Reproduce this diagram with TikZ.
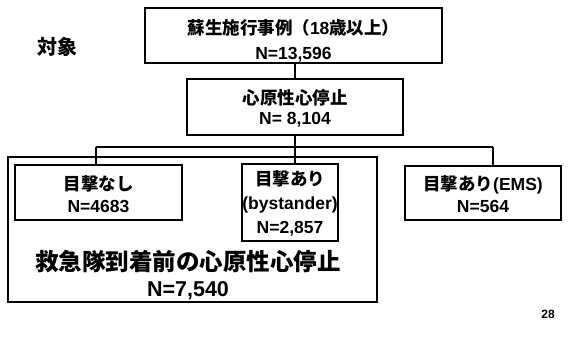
\documentclass[tikz,border=0pt]{standalone}
\usepackage{fontspec}
\setmainfont{Liberation Sans}
\newfontfamily\jp{Noto Sans CJK JP}
\begin{document}
\begin{tikzpicture}[x=1pt,y=-1pt,
  box/.style={draw, line width=1.3pt, inner sep=0pt},
  lbl/.style={align=center, inner sep=0pt, font=\fontsize{17.5}{#1}\selectfont\bfseries},
  lbl/.default=22,
  big/.style={align=center, inner sep=0pt, font=\fontsize{23.5}{26}\selectfont\bfseries},
  link/.style={line width=1.3pt}]
\useasboundingbox (0,0) rectangle (586,340);
% boxes
\node[box, minimum width=297pt, minimum height=55pt] (top) at (293.5,35.5) {};
\node[box, minimum width=216pt, minimum height=56pt] (card) at (295,107) {};
\node[box, minimum width=369pt, minimum height=145pt] (pre) at (192.5,229.5) {};
\node[box, minimum width=167pt, minimum height=55pt] (none) at (98.5,192.5) {};
\node[box, minimum width=96pt, minimum height=77pt] (bys) at (290,202.5) {};
\node[box, minimum width=156pt, minimum height=54pt] (ems) at (483,193) {};
% texts
\node[font=\fontsize{20}{24}\selectfont\bfseries\jp, inner sep=0pt] (taisho) at (57,47) {対象};
\node[lbl=25] (toptxt) at (293.5,40.5) {{\jp 蘇生施行事例（}18{\jp 歳以上）}\\N=13,596};
\node[lbl=20] (cardtxt) at (295,108) {{\jp 心原性心停止}\\N= 8,104};
\node[lbl=22] (nonetxt) at (98.5,194) {{\jp 目撃なし}\\N=4683};
\node[lbl=24] (bystxt) at (290,203) {{\jp 目撃あり}\\(bystander)\\N=2,857};
\node[lbl=22] (emstxt) at (483,194) {{\jp 目撃あり}(EMS)\\N=564};
\node[big] (pretxt) at (188,275) {{\jp 救急隊到着前の心原性心停止}\\{\fontsize{21.5}{26}\selectfont N=7,540}};
\node[font=\fontsize{12}{14}\selectfont\bfseries, inner sep=0pt] (page) at (548,314) {28};
% connectors
\coordinate (jm) at (295,147);
\coordinate (jl) at (96,147);
\coordinate (jr) at (493,147);
\draw[link] (card.north) -- (card.north |- top.south);
\draw[link] (card.south) -- (jm);
\draw[link] (jl) -- (jr);
\draw[link] (jl) -- (jl |- none.north);
\draw[link] (jm) -- (jm |- bys.north);
\draw[link] (jr) -- (jr |- ems.north);
\end{tikzpicture}
\end{document}
